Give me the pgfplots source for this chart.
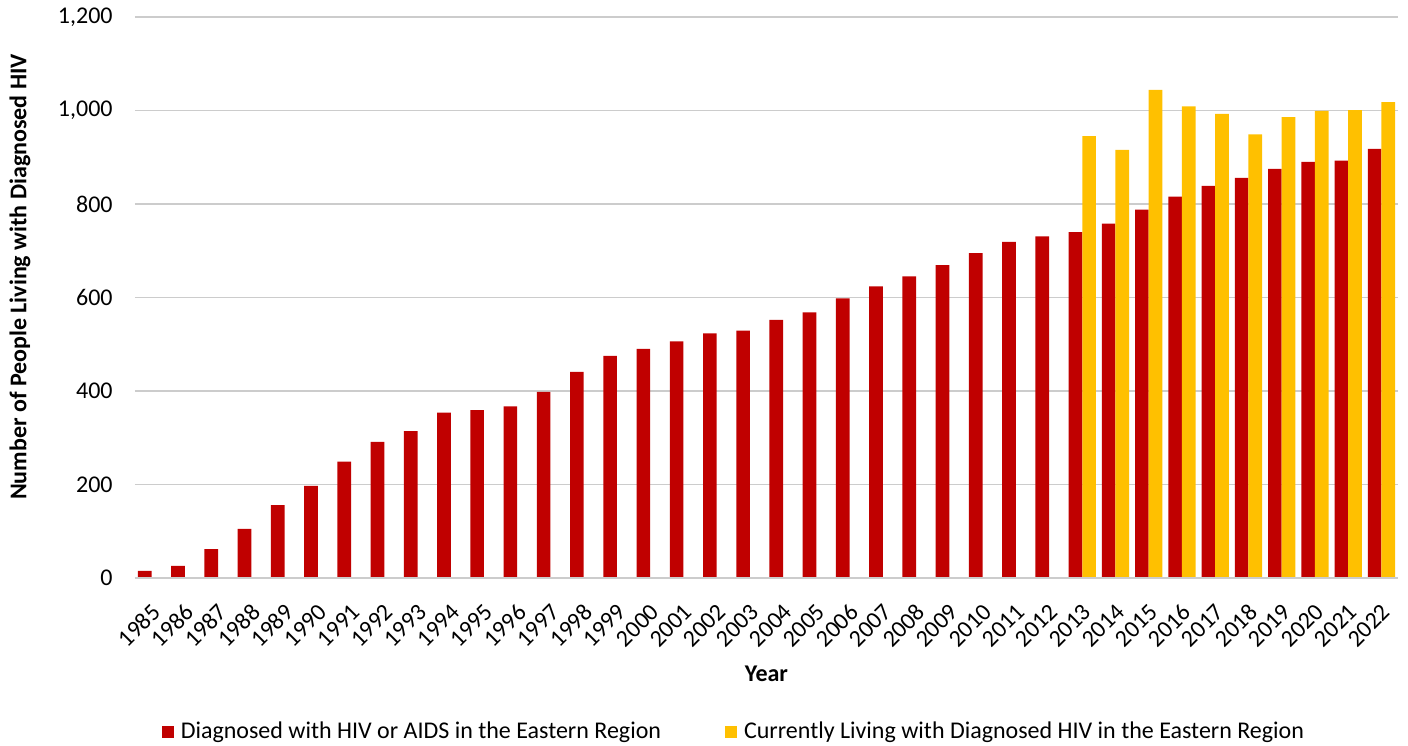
\documentclass[border=0pt]{standalone}
\usepackage{fontspec}
\setmainfont{Carlito}
\usepackage{pgfplots}
\pgfplotsset{compat=1.18}
\definecolor{DiagRed}{HTML}{C00000}
\definecolor{LiveGold}{HTML}{FFC000}
\definecolor{GridGray}{HTML}{CCCCCC}

% 1 px of the reference = 0.5pt
\begin{document}
\begin{tikzpicture}
\begin{axis}[
  at={(0,0)}, anchor=south west,
  scale only axis,
  width=631.5pt, height=280.5pt,
  xmin=-0.5, xmax=37.5,
  ymin=0, ymax=1200,
  ytick={0,200,...,1200},
  xtick={0,...,37},
  xticklabels={1985,1986,1987,1988,1989,1990,1991,1992,1993,1994,1995,1996,1997,1998,1999,2000,2001,2002,2003,2004,2005,2006,2007,2008,2009,2010,2011,2012,2013,2014,2015,2016,2017,2018,2019,2020,2021,2022},
  major tick length=0pt,
  ymajorgrids,
  grid style={GridGray, line width=0.75pt},
  axis line style={draw=none},
  axis x line*=bottom,
  axis y line*=left,
  /pgf/number format/assume math mode=true,
  /pgf/number format/1000 sep={,},
  tick label style={font=\fontsize{12}{14}\selectfont, black},
  yticklabel style={anchor=east, inner sep=0pt, xshift=-11pt},
  xticklabel style={xshift=2.5pt, yshift=-15pt, rotate=45, anchor=east, inner sep=0pt},
  xlabel={\textbf{Year}},
  xlabel style={at={(rel axis cs:0.5,-0.171)}, anchor=center, font=\fontsize{12}{14}\selectfont},
  ylabel={\textbf{Number of People Living with Diagnosed HIV}},
  ylabel style={at={(rel axis cs:-0.0911,0.5365)}, anchor=center, rotate=0, font=\fontsize{12}{14}\selectfont},
  legend columns=2,
  legend style={at={(rel axis cs:0.475,-0.2745)}, anchor=center, draw=none, fill=none,
    font=\fontsize{12}{14}\selectfont, inner sep=0pt,
    /tikz/every even column/.append style={column sep=30pt}},
  legend image code/.code={\fill[#1] (0pt,-3pt) rectangle (6pt,3pt);},
  legend cell align=left,
]
\addplot[ybar, bar width=0.41, bar shift=-0.205, fill=DiagRed, draw=none] coordinates {
(0,15)(1,26)(2,62)(3,105)(4,156)(5,197)(6,249)(7,291)(8,314)(9,354)
(10,359)(11,367)(12,398)(13,441)(14,475)(15,490)(16,506)(17,523)(18,529)(19,552)
(20,568)(21,598)(22,624)(23,645)(24,669)(25,695)(26,719)(27,731)(28,740)(29,758)
(30,788)(31,816)(32,839)(33,856)(34,875)(35,890)(36,893)(37,918)
};
\addlegendentry{\hspace{1.5pt}Diagnosed with HIV or AIDS in the Eastern Region}
\addplot[ybar, bar width=0.41, bar shift=0.205, fill=LiveGold, draw=none] coordinates {
(28,945)(29,916)(30,1044)(31,1009)(32,993)(33,949)(34,986)(35,999)(36,1001)(37,1018)
};
\addlegendentry{\hspace{1.5pt}Currently Living with Diagnosed HIV in the Eastern Region}
\draw[GridGray, line width=0.75pt] (rel axis cs:0,0) -- (rel axis cs:1,0);
\end{axis}
\path[use as bounding box] (-67.5pt,-83.5pt) rectangle (636.5pt,289pt);
\end{tikzpicture}
\end{document}
